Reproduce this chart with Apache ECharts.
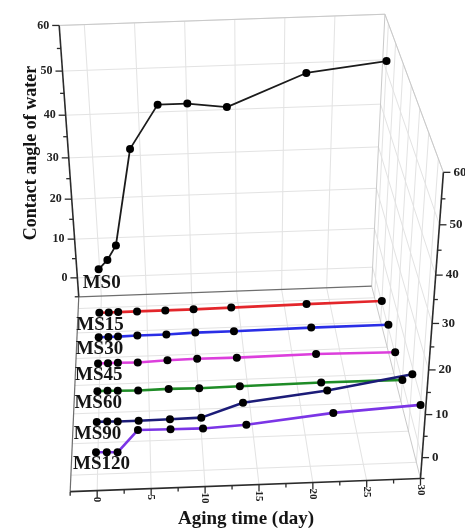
<!DOCTYPE html>
<html><head><meta charset="utf-8">
<script src="https://cdn.jsdelivr.net/npm/echarts@6/dist/echarts.min.js"></script>
<style>html,body{margin:0;background:#fff}#chart{width:465px;height:529px}</style>
</head><body><div id="chart"></div>
<script>
// Aging time (day) at which the water contact angle was measured
const agingDays = [0, 1, 2, 4, 7, 10, 14, 22, 30];
const sampleNames = ['MS0', 'MS15', 'MS30', 'MS45', 'MS60', 'MS90', 'MS120'];
// Contact angle of water (degree) for each sample
const ms0   = [5.0, 7.3, 10.9, 34.1, 44.0, 44.0, 42.9, 49.9, 51.9];
const ms15  = [0, 0, 0, 0, 0, 0, 0.1, 0.3, 0.4];
const ms30  = [0.2, 0.2, 0.2, 0.3, 0.3, 0.5, 0.5, 0.7, 0.7];
const ms45  = [0.3, 0.3, 0.3, 0.2, 0.5, 0.6, 0.5, 0.7, 0.4];
const ms60  = [0.4, 0.4, 0.3, 0.2, 0.3, 0.2, 0.3, 0.5, 0.4];
const ms90  = [0.1, 0.1, 0, 0, 0.1, 0.2, 3.4, 5.6, 8.7];
const ms120 = [0.3, 0.2, 0.1, 5.2, 5.1, 5.0, 5.5, 7.5, 8.6];
// Axis ticks
const timeTicks  = [0, 5, 10, 15, 20, 25, 30];
const angleTicks = [0, 10, 20, 30, 40, 50, 60];

const sampleValues = [ms0, ms15, ms30, ms45, ms60, ms90, ms120];
const lineColors = ['#1b1b1b', '#e3262b', '#2a2ee6', '#dc3fdc', '#1f8c27', '#1c1c78', '#7b35e6'];

// 3D box: x = aging time, y = sample depth (0 back .. 1 front), z = contact angle
const X_MIN = -2.5, X_MAX = 30, Z_MIN = -5, Z_MAX = 60;
const depthOf = i => (i + 0.5) / sampleNames.length;
// perspective camera matrix of the view
const CAM = [
  [9.10323, -20.2573, -0.39593, 100.143],
  [-0.312243, 115.045, -4.24599, 277.043],
  [0.0000585935, -0.165411, -0.00156399, 1]
];
function project(x, y, z) {
  const w = [x, y, z, 1];
  const dot = r => r[0] * w[0] + r[1] * w[1] + r[2] * w[2] + r[3] * w[3];
  const d = dot(CAM[2]);
  return [dot(CAM[0]) / d, dot(CAM[1]) / d];
}

const SERIF = '"Liberation Serif", "Times New Roman", serif';
const styles = {
  grid:  { stroke: '#e3e3e3', lineWidth: 1 },
  edge:  { stroke: '#c9c9c9', lineWidth: 1 },
  floor: { stroke: '#6e6e6e', lineWidth: 1.2 },
  axis:  { stroke: '#2b2b2b', lineWidth: 1.6 }
};
const styleKeys = Object.keys(styles);

// frame segments: [x1,y1,z1,x2,y2,z2,styleIndex]
const frame = [];
const seg = (a, b, s) => frame.push([...a, ...b, styleKeys.indexOf(s)]);
// back wall grid
timeTicks.forEach(t => { if (t < X_MAX) seg([t, 0, Z_MIN], [t, 0, Z_MAX], 'grid'); });
angleTicks.forEach(a => seg([X_MIN, 0, a], [X_MAX, 0, a], 'grid'));
// floor grid
timeTicks.forEach(t => { if (t < X_MAX) seg([t, 0, Z_MIN], [t, 1, Z_MIN], 'grid'); });
sampleNames.forEach((n, i) => seg([X_MIN, depthOf(i), Z_MIN], [X_MAX, depthOf(i), Z_MIN], 'grid'));
// right wall grid
angleTicks.forEach(a => seg([X_MAX, 0, a], [X_MAX, 1, a], 'grid'));
sampleNames.forEach((n, i) => seg([X_MAX, depthOf(i), Z_MIN], [X_MAX, depthOf(i), Z_MAX], 'grid'));
// box edges
seg([X_MIN, 0, Z_MAX], [X_MAX, 0, Z_MAX], 'edge');
seg([X_MAX, 0, Z_MIN], [X_MAX, 0, Z_MAX], 'edge');
seg([X_MAX, 0, Z_MAX], [X_MAX, 1, Z_MAX], 'edge');
seg([X_MAX, 0, Z_MIN], [X_MAX, 1, Z_MIN], 'edge');
seg([X_MIN, 0, Z_MIN], [X_MIN, 1, Z_MIN], 'floor');
seg([X_MIN, 0, Z_MIN], [X_MAX, 0, Z_MIN], 'floor');
// axis lines
seg([X_MIN, 0, Z_MIN], [X_MIN, 0, Z_MAX], 'axis');
seg([X_MAX, 1, Z_MIN], [X_MAX, 1, Z_MAX], 'axis');
seg([X_MIN, 1, Z_MIN], [X_MAX, 1, Z_MIN], 'axis');

// ticks: [x,y,z,dx,dy]
const ticks = [];
for (let a = Z_MIN; a <= Z_MAX; a += 5) {
  const major = a % 10 === 0;
  ticks.push([X_MIN, 0, a, major ? -7 : -4, 0]);
  ticks.push([X_MAX, 1, a, major ? 7 : 4, 0]);
}
for (let t = X_MIN; t <= X_MAX; t += 2.5) {
  ticks.push([t, 1, Z_MIN, 0, t % 5 === 0 ? 7 : 4]);
}
// tick labels: [x,y,z,labelValue,side]  side 0 left, 1 right, 2 bottom
const tickLabels = [];
angleTicks.forEach(a => { tickLabels.push([X_MIN, 0, a, a, 0]); tickLabels.push([X_MAX, 1, a, a, 1]); });
timeTicks.forEach(t => tickLabels.push([t, 1, Z_MIN, t, 2]));

const series = [];
series.push({
  type: 'custom', coordinateSystem: 'none', silent: true, z: 1,
  data: frame,
  renderItem: (params, api) => {
    const a = project(api.value(0), api.value(1), api.value(2));
    const b = project(api.value(3), api.value(4), api.value(5));
    return { type: 'line', shape: { x1: a[0], y1: a[1], x2: b[0], y2: b[1] },
      style: Object.assign({}, styles[styleKeys[api.value(6)]]) };
  }
});
series.push({
  type: 'custom', coordinateSystem: 'none', silent: true, z: 2,
  data: ticks,
  renderItem: (params, api) => {
    const a = project(api.value(0), api.value(1), api.value(2));
    return { type: 'line', shape: { x1: a[0], y1: a[1], x2: a[0] + api.value(3), y2: a[1] + api.value(4) },
      style: { stroke: '#2b2b2b', lineWidth: 1.3 } };
  }
});
series.push({
  type: 'custom', coordinateSystem: 'none', silent: true, z: 2,
  data: tickLabels,
  renderItem: (params, api) => {
    const a = project(api.value(0), api.value(1), api.value(2));
    const side = api.value(4), text = String(api.value(3));
    if (side === 0) return { type: 'text', x: a[0] - 10, y: a[1],
      style: { text, font: 'bold 12px ' + SERIF, fill: '#222', align: 'right', verticalAlign: 'middle' } };
    if (side === 1) return { type: 'text', x: a[0] + 10, y: a[1],
      style: { text, font: 'bold 13px ' + SERIF, fill: '#222', align: 'left', verticalAlign: 'middle' } };
    return { type: 'text', x: a[0], y: a[1] + 6, rotation: -Math.PI / 2,
      style: { text, font: 'bold 11px ' + SERIF, fill: '#222', align: 'left', verticalAlign: 'middle' } };
  }
});

sampleNames.forEach((name, si) => {
  const vals = sampleValues[si], depth = depthOf(si);
  const segs = [];
  for (let i = 0; i < agingDays.length - 1; i++) segs.push([agingDays[i], vals[i], agingDays[i + 1], vals[i + 1]]);
  series.push({
    name, type: 'custom', coordinateSystem: 'none', silent: true, z: 3,
    data: segs,
    renderItem: (params, api) => {
      const a = project(api.value(0), depth, api.value(1));
      const b = project(api.value(2), depth, api.value(3));
      return { type: 'line', shape: { x1: a[0], y1: a[1], x2: b[0], y2: b[1] },
        style: { stroke: lineColors[si], lineWidth: si === 0 ? 1.8 : 2.6, lineCap: 'round' } };
    }
  });
  series.push({
    name, type: 'custom', coordinateSystem: 'none', silent: true, z: 4,
    data: agingDays.map((d, i) => [d, vals[i]]),
    renderItem: (params, api) => {
      const p = project(api.value(0), depth, api.value(1));
      const children = [{ type: 'circle', shape: { cx: p[0], cy: p[1], r: 4 }, style: { fill: '#000' } }];
      if (params.dataIndex === 0) {
        children.push({ type: 'text', x: p[0] + (si === 0 ? -16 : -23), y: p[1] + (si === 0 ? 14 : 12),
          style: { text: name, font: 'bold 19px ' + SERIF, fill: '#151515', align: 'left', verticalAlign: 'middle' } });
      }
      return { type: 'group', children };
    }
  });
});

const chart = echarts.init(document.getElementById('chart'), null, { renderer: 'canvas' });
chart.setOption({
  animation: false,
  backgroundColor: '#ffffff',
  graphic: [
    { type: 'text', x: 31, y: 153, rotation: Math.PI / 2,
      style: { text: 'Contact angle of water', font: 'bold 18px ' + SERIF, fill: '#151515', align: 'center', verticalAlign: 'middle' } },
    { type: 'text', x: 246, y: 519,
      style: { text: 'Aging time (day)', font: 'bold 19px ' + SERIF, fill: '#151515', align: 'center', verticalAlign: 'middle' } }
  ],
  series
});
</script>
</body></html>
